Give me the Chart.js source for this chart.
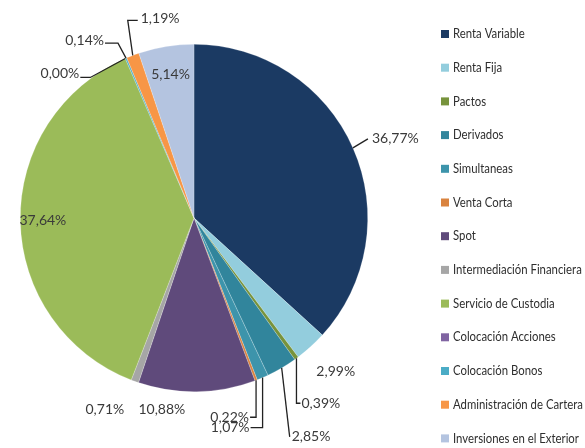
<!DOCTYPE html>
<html>
<head>
<meta charset="utf-8">
<script src="https://cdn.jsdelivr.net/npm/chart.js@4/dist/chart.umd.min.js"></script>
<style>
  html, body { margin: 0; padding: 0; background: #fff; }
  canvas { display: block; }
</style>
</head>
<body>
<canvas id="pie" width="585" height="448"></canvas>
<script>
const categories = [
    "Renta Variable", "Renta Fija", "Pactos", "Derivados", "Simultaneas",
    "Venta Corta", "Spot", "Intermediación Financiera", "Servicio de Custodia",
    "Colocación Acciones", "Colocación Bonos", "Administración de Cartera",
    "Inversiones en el Exterior"
];
const shares = [36.77, 2.99, 0.39, 2.85, 1.07, 0.22, 10.88, 0.71, 37.64, 0.00, 0.14, 1.19, 5.14];
const valueLabels = ["36,77%", "2,99%", "0,39%", "2,85%", "1,07%", "0,22%", "10,88%", "0,71%", "37,64%", "0,00%", "0,14%", "1,19%", "5,14%"];
const sliceColors = [
    "#1b3a63", "#93cddd", "#77933c", "#31859c", "#3d94ab",
    "#d9833f", "#5f4a7b", "#a6a6a6", "#9bbb59", "#8064a2",
    "#4bacc6", "#f79646", "#b4c4e0"
];

// label placement relative to the slice's outer edge
const labelPlacement = [
    { path: [[15, -9]], text: [19, -9], align: "left" },
    { path: [], text: [25, 25], align: "center" },
    { path: [[0, 45], [4, 45]], text: [5, 45], align: "left" },
    { path: [[8, 69]], text: [10, 69], align: "left" },
    { path: [[0, 50], [-12, 50]], text: [-13, 50], align: "right" },
    { path: [[0, 37], [-6, 37]], text: [-7, 37], align: "right" },
    { path: [], text: [-35, 18], align: "center" },
    { path: [], text: [-30, 28], align: "center" },
    { inside: 0.87 },
    { path: [[-35, 19], [-45, 19]], text: [-46, 15], align: "right" },
    { path: [[-8, -15], [-21, -15]], text: [-22, -18], align: "right" },
    { path: [[-5, -35], [5, -35]], text: [8, -37], align: "left" },
    { inside: 0.84 }
];

const labelFont = "14px Lato, 'Open Sans', sans-serif";
const legendFont = "13px Lato, sans-serif";

const sliceLabels = {
    id: "sliceLabels",
    afterDatasetsDraw(chart) {
        const ctx = chart.ctx;
        const arcs = chart.getDatasetMeta(0).data;
        ctx.save();
        ctx.font = labelFont;
        ctx.fillStyle = "#3a3a3a";
        ctx.strokeStyle = "#222";
        ctx.lineWidth = 1.3;
        ctx.textBaseline = "middle";
        arcs.forEach((arc, i) => {
            const p = labelPlacement[i];
            const mid = (arc.startAngle + arc.endAngle) / 2;
            if (p.inside) {
                const r = arc.outerRadius * p.inside;
                ctx.textAlign = "center";
                ctx.fillText(valueLabels[i], arc.x + Math.cos(mid) * r, arc.y + Math.sin(mid) * r);
                return;
            }
            const ex = arc.x + Math.cos(mid) * arc.outerRadius;
            const ey = arc.y + Math.sin(mid) * arc.outerRadius;
            if (p.path.length) {
                ctx.beginPath();
                ctx.moveTo(ex, ey);
                p.path.forEach(o => ctx.lineTo(ex + o[0], ey + o[1]));
                ctx.stroke();
            }
            ctx.textAlign = p.align;
            ctx.fillText(valueLabels[i], ex + p.text[0], ey + p.text[1]);
        });
        ctx.restore();
    }
};

// legend on the right, text squeezed horizontally like the original
const sideLegend = {
    id: "sideLegend",
    afterDraw(chart) {
        const ctx = chart.ctx;
        const colors = chart.data.datasets[0].backgroundColor;
        ctx.save();
        ctx.font = legendFont;
        ctx.textBaseline = "middle";
        ctx.textAlign = "left";
        const widest = Math.max(...chart.data.labels.map(t => ctx.measureText(t).width));
        const sx = Math.min(1, 130 / widest);
        chart.data.labels.forEach((name, i) => {
            const y = 34 + i * 33.7;
            ctx.fillStyle = colors[i];
            ctx.fillRect(441, y - 4, 8, 8);
            ctx.fillStyle = "#2e2e2e";
            ctx.save();
            ctx.translate(453, y);
            ctx.scale(sx, 1);
            ctx.fillText(name, 0, 0);
            ctx.restore();
        });
        ctx.restore();
    }
};

new Chart(document.getElementById("pie"), {
    type: "pie",
    data: {
        labels: categories,
        datasets: [{
            data: shares,
            backgroundColor: sliceColors,
            borderColor: "rgba(255,255,255,0.35)",
            borderWidth: 0.6
        }]
    },
    options: {
        responsive: false,
        animation: false,
        layout: { padding: { left: 20, right: 217, top: 44, bottom: 56 } },
        plugins: {
            legend: { display: false },
            tooltip: { enabled: false }
        }
    },
    plugins: [sliceLabels, sideLegend]
});
</script>
</body>
</html>
